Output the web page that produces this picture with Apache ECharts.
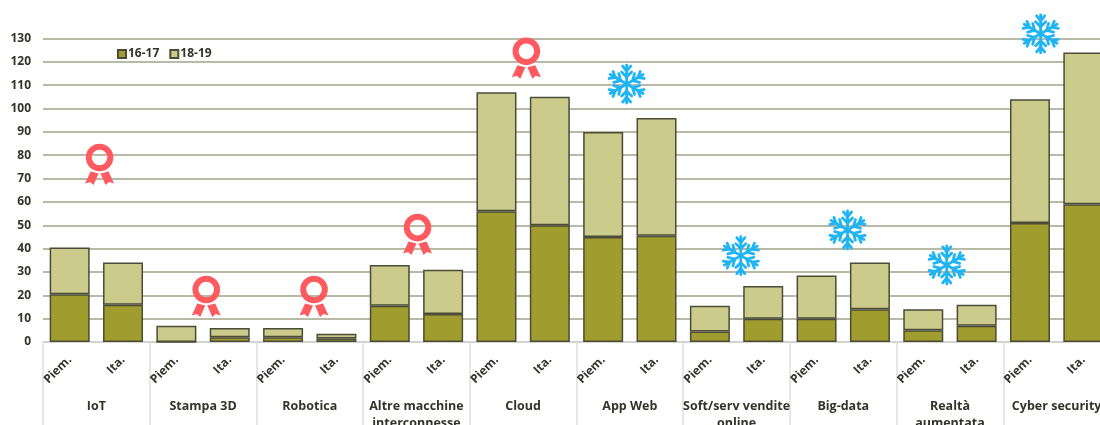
<!DOCTYPE html>
<html>
<head>
<meta charset="utf-8">
<style>html,body{margin:0;padding:0;background:#fff;overflow:hidden}#chart{width:1100px;height:425px}</style>
<script src="https://cdn.jsdelivr.net/npm/echarts@6/dist/echarts.min.js"></script>
</head>
<body>
<div id="chart"></div>
<script>
const groups = ['IoT', 'Stampa 3D', 'Robotica', 'Altre macchine\ninterconnesse', 'Cloud', 'App Web',
  'Soft/serv vendite\nonline', 'Big-data', 'Realtà\naumentata', 'Cyber security'];
const places = ['Piem.', 'Ita.'];
const years = ['16-17', '18-19'];
const first = [20.5, 16, 0, 2, 2, 1.5, 15.5, 12, 56, 50, 45, 45.5, 4.5, 10, 10, 14, 5, 7, 51, 59];
const second = [20, 18, 7, 4, 4, 2, 17.5, 19, 51, 55, 45, 50.5, 11, 14, 18.5, 20, 9, 9, 53, 65];
// Markers: position along the ten sectors, height on the value scale
const ribbons = [[0.53, 79], [1.53, 22.5], [2.54, 22.5], [3.51, 49], [4.53, 124.5]];
const flakes = [[5.47, 110.5], [6.54, 37], [7.54, 48], [8.47, 33], [9.35, 132]];

const barLabels = groups.flatMap(() => places);
const font = 'Open Sans';
const ink = '#33332c';

function barSeries(name, values, color) {
  return {
    name, type: 'bar', stack: 'total', barWidth: 40, data: values,
    xAxisIndex: 0, yAxisIndex: 0,
    itemStyle: { color, borderColor: '#4b4b38', borderWidth: 1.5 }
  };
}

function drawRibbon(params, api) {
  const [cx, cy] = api.coord([api.value(0), api.value(1)]);
  const c = '#FF5A5F';
  return {
    type: 'group', x: cx, y: cy,
    children: [
      { type: 'circle', shape: { cx: 0, cy: 0, r: 10.8 }, style: { fill: 'none', stroke: c, lineWidth: 6 } },
      { type: 'polygon', shape: { points: [[-9, 14], [-1, 16], [-6, 27.5], [-9.5, 24.5], [-14.5, 26]] }, style: { fill: c } },
      { type: 'polygon', shape: { points: [[9, 14], [1, 16], [6, 27.5], [9.5, 24.5], [14.5, 26]] }, style: { fill: c } }
    ]
  };
}

function drawFlake(params, api) {
  const [cx, cy] = api.coord([api.value(0), api.value(1)]);
  const arms = [];
  for (let i = 0; i < 6; i++) {
    arms.push({
      type: 'group', rotation: i * Math.PI / 3,
      children: [
        [0, 0, 0, -19], [0, -7, -5, -12], [0, -7, 5, -12], [0, -13, -4, -18], [0, -13, 4, -18]
      ].map(([x1, y1, x2, y2]) => ({
        type: 'line', shape: { x1, y1, x2, y2 },
        style: { stroke: '#1FB4F3', lineWidth: 2.8, lineCap: 'round' }
      }))
    });
  }
  return { type: 'group', x: cx, y: cy, children: arms };
}

const chart = echarts.init(document.getElementById('chart'), null, { renderer: 'canvas' });
chart.setOption({
  animation: false,
  backgroundColor: '#fff',
  grid: { left: 43, right: -10, top: 38.5, bottom: 83, outerBoundsMode: 'none', containLabel: false },
  legend: {
    data: years, icon: 'rect', left: 112, top: 43, itemWidth: 8, itemHeight: 8, itemGap: 10,
    textStyle: { fontFamily: font, fontWeight: 'bold', fontSize: 12, color: ink, padding: [0, 0, 0, -3] }
  },
  xAxis: [
    {
      type: 'category', data: barLabels, position: 'bottom',
      axisLine: { lineStyle: { color: '#dcdcdc', width: 1.5 } },
      axisTick: { show: false },
      axisLabel: {
        interval: 0, rotate: 45, margin: 16, fontFamily: font, fontWeight: 'bold',
        fontSize: 12, color: ink
      }
    },
    {
      type: 'category', data: groups, position: 'bottom',
      axisLine: { show: false },
      axisTick: { show: true, length: 90, lineStyle: { color: '#dedede', width: 1.5 } },
      axisLabel: {
        interval: 0, margin: 56, fontFamily: font, fontWeight: 'bold', fontSize: 12.5, color: ink,
        lineHeight: 17, verticalAlign: 'top'
      }
    },
    { type: 'value', min: 0, max: 10, show: false }
  ],
  yAxis: {
    type: 'value', min: 0, max: 130, interval: 10,
    axisLine: { show: false }, axisTick: { show: false },
    axisLabel: { margin: 12, fontFamily: font, fontWeight: 'bold', fontSize: 12, color: ink },
    splitLine: { lineStyle: { color: '#b9b9a8', width: 2 } }
  },
  series: [
    barSeries(years[0], first, '#9E9D2E'),
    barSeries(years[1], second, '#CBCB8B'),
    {
      type: 'custom', xAxisIndex: 2, yAxisIndex: 0, data: ribbons, clip: false, z: 5,
      renderItem: drawRibbon, silent: true
    },
    {
      type: 'custom', xAxisIndex: 2, yAxisIndex: 0, data: flakes, clip: false, z: 5,
      renderItem: drawFlake, silent: true
    }
  ]
});
</script>
</body>
</html>
